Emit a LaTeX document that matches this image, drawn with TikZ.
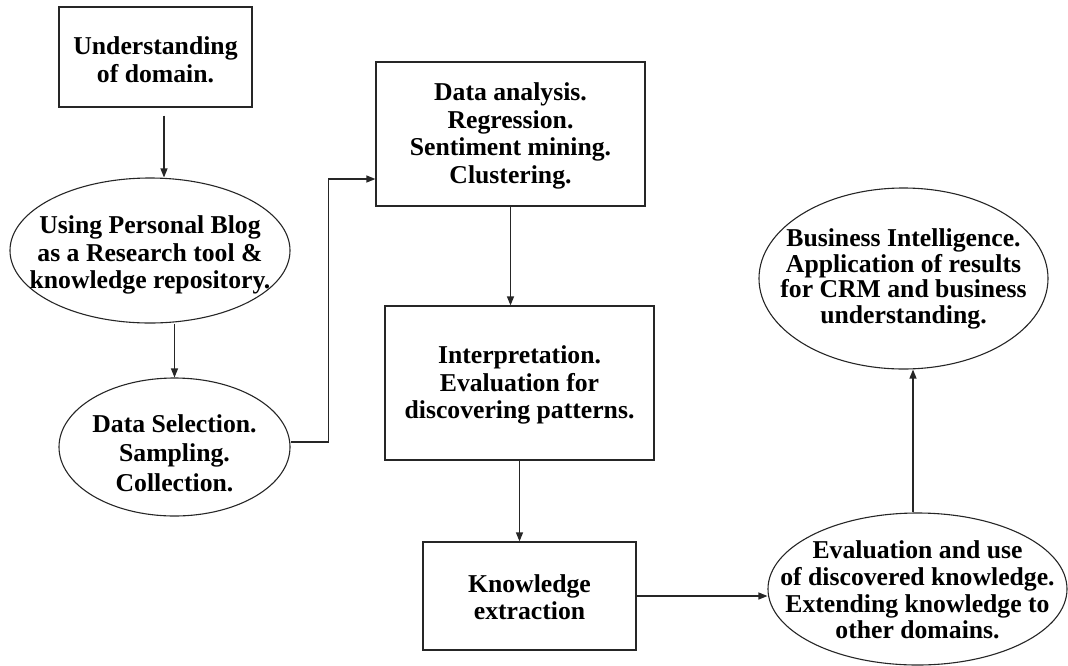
\documentclass[tikz,border=0pt]{standalone}
\usepackage{fontspec}
\setmainfont{Liberation Serif}
\usetikzlibrary{shapes.geometric,arrows.meta}
\tikzset{
  boxshape/.style={draw=black!85, line width=1.2pt, rectangle, inner sep=0pt},
  ovalshape/.style={draw=black!85, line width=1.1pt, ellipse, inner sep=0pt},
  lbl/.style={align=center, inner sep=0pt, font=\bfseries\fontsize{25.7}{27.5}\selectfont},
  arr/.style={draw=black!85, line width=1.2pt, -{Triangle[length=9pt,width=7pt]}}
}
\begin{document}
\begin{tikzpicture}[x=1pt,y=-1pt]
\useasboundingbox (0,0) rectangle (1068,665);
% shapes
\node[boxshape, minimum width=193pt, minimum height=100pt] (b1) at (155.5,57) {};
\node[ovalshape, minimum width=280pt, minimum height=145pt] (e2) at (150,250.5) {};
\node[ovalshape, minimum width=231pt, minimum height=138pt] (e3) at (174.5,447) {};
\node[boxshape, minimum width=269pt, minimum height=144pt] (b4) at (510.5,134) {};
\node[boxshape, minimum width=269pt, minimum height=154pt] (b5) at (519.5,383) {};
\node[boxshape, minimum width=213pt, minimum height=108pt] (b6) at (529.5,596) {};
\node[ovalshape, minimum width=299pt, minimum height=152pt] (e7) at (917.5,589) {};
\node[ovalshape, minimum width=289pt, minimum height=181pt] (e8) at (903.5,278.5) {};
% texts
\node[lbl] (t1) at (155.5,60) {Understanding\\of domain.};
\node[lbl] (t2) at (150,255) {Using Personal Blog\\as a Research tool \&\\knowledge repository.};
\node[lbl, font=\bfseries\fontsize{25.7}{29.5}\selectfont] (t3) at (174.5,453) {Data Selection.\\Sampling.\\Collection.};
\node[lbl] (t4) at (510.5,136) {Data analysis.\\Regression.\\Sentiment mining.\\Clustering.};
\node[lbl] (t5) at (519.5,385) {Interpretation.\\Evaluation for\\discovering patterns.};
\node[lbl] (t6) at (529.5,597) {Knowledge\\extraction};
\node[lbl, font=\bfseries\fontsize{25.7}{26.7}\selectfont] (t7) at (917.5,590) {Evaluation and use\\of discovered knowledge.\\Extending knowledge to\\other domains.};
\node[lbl, font=\bfseries\fontsize{25.7}{25.7}\selectfont] (t8) at (903.5,279) {Business Intelligence.\\Application of results\\for CRM and business\\understanding.};
% connectors
\draw[arr] ([xshift=8.5pt,yshift=-8pt]b1.south) -- ([xshift=14pt]e2.north);
\draw[arr] (e3.north |- e2.south) -- (e3.north);
\draw[arr] ([yshift=5pt]e3.east) -- ++(38pt,0) |- ([yshift=-45pt]b4.west);
\draw[arr] (b4.south) -- (b4.south |- b5.north);
\draw[arr] (b5.south) -- (b5.south |- b6.north);
\draw[arr] (b6.east) -- (b6.east -| e7.west);
\draw[arr] ([xshift=-4.5pt]e7.north) -- ([xshift=-4.5pt]e7.north |- e8.south);
\end{tikzpicture}
\end{document}
